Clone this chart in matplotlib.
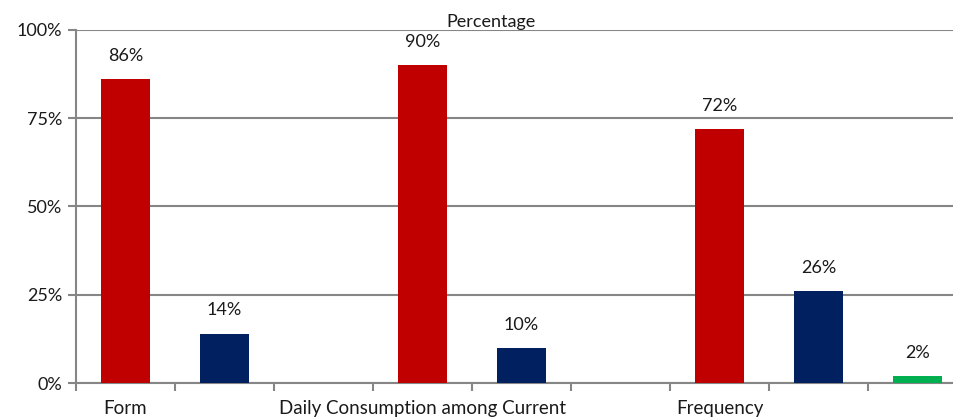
import matplotlib.pyplot as plt
import numpy as np

plt.rcParams['font.family'] = ['Lato', 'DejaVu Sans']

categories = ['Form', '', '', 'Daily Consumption among Current', '', '',
              'Frequency', '', '']
values = [86, 14, 0, 90, 10, 0, 72, 26, 2]
colors = ['#C00000', '#002060', '#00B050'] * 3
yticks = [0, 25, 50, 75, 100]

fig = plt.figure(figsize=(9.54, 4.19), dpi=100)
# axes runs past the right edge, as in the cropped original
ax = fig.add_axes([76 / 954, 36 / 419, 891 / 954, 353 / 419])

x = np.arange(len(values))
ax.bar(x, values, width=0.5, color=colors, zorder=3)
for xi, v in zip(x, values):
    if v > 0:
        ax.text(xi, v + 4.3, f'{v}%', ha='center', va='bottom', fontsize=13,
                color='#1a1a1a')

ax.set_xlim(-0.5, len(values) - 0.5)
ax.set_ylim(0, 100)
ax.set_yticks(yticks)
ax.set_yticklabels([f'{t}%' for t in yticks], fontsize=13, color='#1a1a1a')
ax.set_xticks(x)
ax.set_xticklabels(categories, fontsize=13.5, color='#1a1a1a')
ax.set_xticks(np.arange(len(values) + 1) - 0.5, minor=True)
ax.tick_params(axis='x', which='major', length=0, pad=12)
ax.tick_params(axis='x', which='minor', length=6, width=1.5, color='#868686')
ax.tick_params(axis='y', length=6, width=1.5, color='#868686', pad=4)

ax.grid(axis='y', color='#868686', lw=1.5, zorder=0)
for s in ['top', 'right']:
    ax.spines[s].set_visible(False)
for s in ['left', 'bottom']:
    ax.spines[s].set_color('#868686')
    ax.spines[s].set_linewidth(1.5)

fig.text(491 / 954, 1 - 22 / 419, 'Percentage', ha='center', va='center',
         fontsize=13, color='#1a1a1a')

fig.savefig('out.png', dpi=100)
